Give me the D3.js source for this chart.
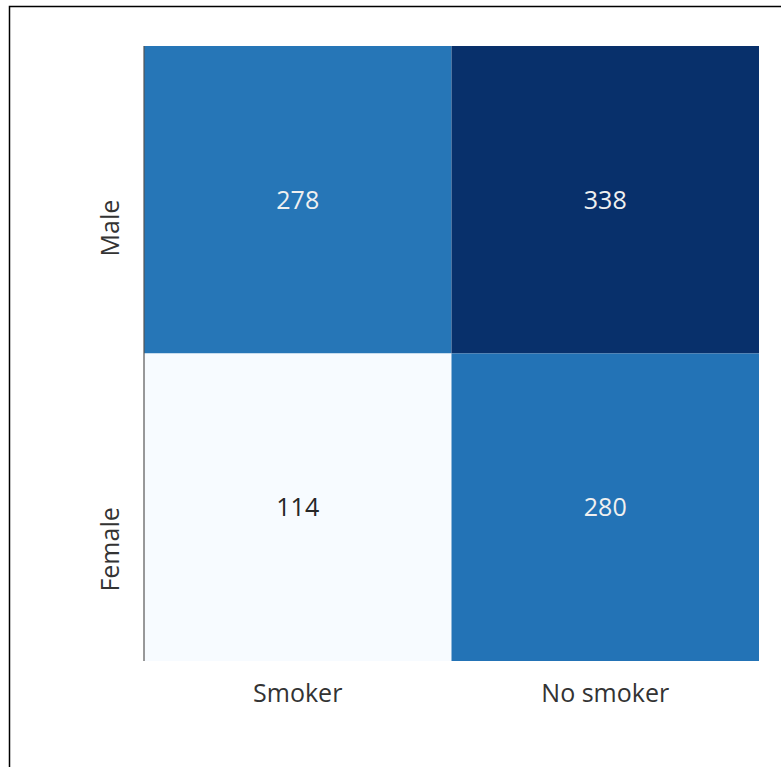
<!DOCTYPE html>
<html>
<head>
<meta charset="utf-8">
<script src="https://cdn.jsdelivr.net/npm/d3@7"></script>
<style>
  body { margin: 0; background: #fff; }
  svg { display: block; }
</style>
</head>
<body>
<div id="heatmap"></div>
<script>
// Data
var rows = ["Male", "Female"];
var cols = ["Smoker", "No smoker"];
var counts = [
    [278, 338],
    [114, 280]
];

// Dimensions
var W = 781, H = 767;
var margin = { top: 46, left: 144 },
    width = 615,
    height = 615;

var svg = d3.select("#heatmap")
    .append("svg")
    .attr("width", W)
    .attr("height", H);

// figure frame (only top/left visible in the picture)
svg.append("rect")
    .attr("x", 9.5).attr("y", 6.5)
    .attr("width", 900).attr("height", 900)
    .attr("fill", "none")
    .attr("stroke", "#000")
    .attr("stroke-width", 1.5);

var g = svg.append("g")
    .attr("transform", "translate(" + margin.left + "," + margin.top + ")");

var x = d3.scaleBand().domain(cols).range([0, width]);
var y = d3.scaleBand().domain(rows).range([0, height]);

// matplotlib "Blues"
var blues = ["#f7fbff", "#deebf7", "#c6dbef", "#9ecae1", "#6baed6", "#4292c6", "#2171b5", "#08519c", "#08306b"];
var all = [].concat.apply([], counts);
var lo = d3.min(all), hi = d3.max(all);
var color = d3.scaleLinear()
    .domain(blues.map(function (d, i) { return lo + (hi - lo) * i / (blues.length - 1); }))
    .range(blues)
    .interpolate(d3.interpolateRgb);

var cells = [];
rows.forEach(function (r, i) {
    cols.forEach(function (c, j) {
        cells.push({ row: r, col: c, value: counts[i][j] });
    });
});

g.selectAll("rect.cell")
    .data(cells)
    .enter()
    .append("rect")
    .attr("class", "cell")
    .attr("x", function (d) { return x(d.col); })
    .attr("y", function (d) { return y(d.row); })
    .attr("width", x.bandwidth())
    .attr("height", y.bandwidth())
    .attr("fill", function (d) { return color(d.value); });

g.selectAll("text.annot")
    .data(cells)
    .enter()
    .append("text")
    .attr("class", "annot")
    .attr("x", function (d) { return x(d.col) + x.bandwidth() / 2; })
    .attr("y", function (d) { return y(d.row) + y.bandwidth() / 2; })
    .attr("dy", "0.35em")
    .attr("text-anchor", "middle")
    .style("font-family", "'Open Sans', sans-serif")
    .style("font-size", "25px")
    .attr("fill", function (d) { return (d.value - lo) / (hi - lo) > 0.5 ? "#f0f0f0" : "#262626"; })
    .text(function (d) { return d.value; });

// left spine
g.append("line")
    .attr("x1", 0).attr("x2", 0)
    .attr("y1", 0).attr("y2", height)
    .attr("stroke", "#555")
    .attr("stroke-width", 1.2);

// x tick labels
g.selectAll("text.xlab")
    .data(cols)
    .enter()
    .append("text")
    .attr("class", "xlab")
    .attr("x", function (d) { return x(d) + x.bandwidth() / 2; })
    .attr("y", height + 41)
    .attr("text-anchor", "middle")
    .style("font-family", "'Open Sans', sans-serif")
    .style("font-size", "25px")
    .attr("fill", "#333")
    .text(function (d) { return d; });

// y tick labels (rotated, end at row centre)
g.selectAll("text.ylab")
    .data(rows)
    .enter()
    .append("text")
    .attr("class", "ylab")
    .attr("transform", function (d) {
        return "translate(-25," + (y(d) + y.bandwidth() / 2) + ") rotate(-90)";
    })
    .attr("text-anchor", "end")
    .style("font-family", "'Open Sans', sans-serif")
    .style("font-size", "25px")
    .attr("fill", "#333")
    .text(function (d) { return d; });
</script>
</body>
</html>
